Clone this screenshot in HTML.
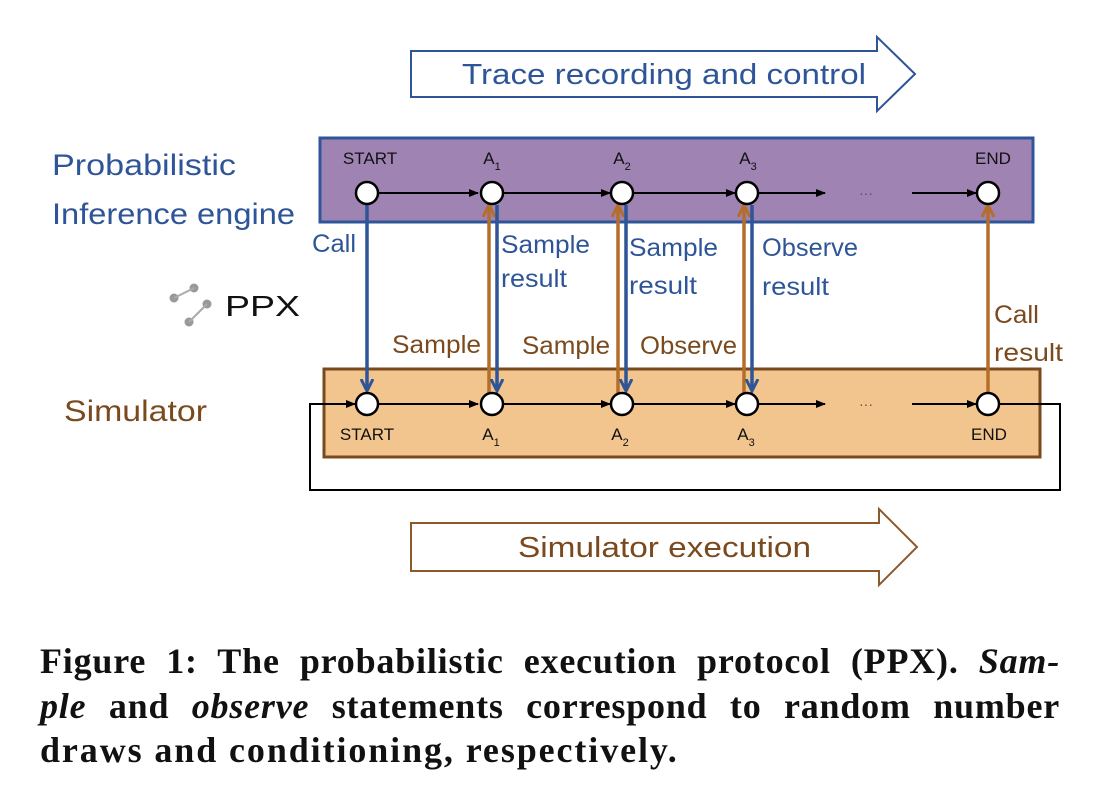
<!DOCTYPE html>
<html><head><meta charset="utf-8"><style>
body{margin:0;background:#fff;width:1098px;height:802px;overflow:hidden}
.cap{position:absolute;left:40px;width:1020px;font-family:"Liberation Serif",serif;font-weight:bold;font-size:36px;line-height:44px;color:#111;white-space:nowrap;letter-spacing:0.8px}
.j{text-align:justify;text-align-last:justify}
</style></head><body>
<svg width="1098" height="802" style="position:absolute;left:0;top:0" font-family="Liberation Sans, DejaVu Sans, sans-serif">
<defs>
<marker id="k" markerWidth="10" markerHeight="8" refX="9" refY="4" orient="auto" markerUnits="userSpaceOnUse" viewBox="0 0 10 8"><path d="M0,0L10,4L0,8z" fill="#000"/></marker>
<marker id="b" markerWidth="14" markerHeight="14" refX="11" refY="7" orient="auto" markerUnits="userSpaceOnUse" viewBox="0 0 14 14"><path d="M0,1L12,7L0,13" fill="none" stroke="#2e5597" stroke-width="3"/></marker>
<marker id="o" markerWidth="14" markerHeight="14" refX="11" refY="7" orient="auto" markerUnits="userSpaceOnUse" viewBox="0 0 14 14"><path d="M0,1L12,7L0,13" fill="none" stroke="#b46e2a" stroke-width="3"/></marker>
</defs>
<path d="M411,51H877V37L915,74L877,111V97H411Z" fill="#fff" stroke="#2e5597" stroke-width="2"/>
<text x="462" y="84" font-size="29" fill="#2e5597" textLength="404" lengthAdjust="spacingAndGlyphs">Trace recording and control</text>
<path d="M411,523H879V509L917,547L879,585V571H411Z" fill="#fff" stroke="#8b5a2b" stroke-width="2"/>
<text x="518" y="557" font-size="29" fill="#7a4a1e" textLength="293" lengthAdjust="spacingAndGlyphs">Simulator execution</text>
<rect x="320" y="138" width="713" height="84" fill="#9f83b3" stroke="#2e5597" stroke-width="3"/>
<rect x="324" y="369" width="716" height="88" fill="#f2c48e" stroke="#7a4a1e" stroke-width="3"/>
<path d="M1000,404H1060V490H310V404H355" fill="none" stroke="#000" stroke-width="2" marker-end="url(#k)"/>
<g stroke="#000" stroke-width="2">
<line x1="378" y1="193" x2="478" y2="193" marker-end="url(#k)"/>
<line x1="501" y1="193" x2="610" y2="193" marker-end="url(#k)"/>
<line x1="633" y1="193" x2="735" y2="193" marker-end="url(#k)"/>
<line x1="758" y1="193" x2="825" y2="193" marker-end="url(#k)"/>
<line x1="912" y1="193" x2="976" y2="193" marker-end="url(#k)"/>
<line x1="378" y1="404" x2="478" y2="404" marker-end="url(#k)"/>
<line x1="501" y1="404" x2="610" y2="404" marker-end="url(#k)"/>
<line x1="633" y1="404" x2="735" y2="404" marker-end="url(#k)"/>
<line x1="758" y1="404" x2="825" y2="404" marker-end="url(#k)"/>
<line x1="912" y1="404" x2="976" y2="404" marker-end="url(#k)"/>
</g>
<text x="866" y="198" font-size="14" fill="#555" text-anchor="middle">···</text>
<text x="866" y="409" font-size="14" fill="#555" text-anchor="middle">···</text>
<g stroke-width="3.5" fill="none">
<line x1="367" y1="205" x2="367" y2="390" stroke="#2e5597" marker-end="url(#b)"/>
<line x1="489" y1="393" x2="489" y2="206" stroke="#b46e2a" marker-end="url(#o)"/>
<line x1="497" y1="205" x2="497" y2="390" stroke="#2e5597" marker-end="url(#b)"/>
<line x1="618" y1="393" x2="618" y2="206" stroke="#b46e2a" marker-end="url(#o)"/>
<line x1="626" y1="205" x2="626" y2="390" stroke="#2e5597" marker-end="url(#b)"/>
<line x1="744" y1="393" x2="744" y2="206" stroke="#b46e2a" marker-end="url(#o)"/>
<line x1="752" y1="205" x2="752" y2="390" stroke="#2e5597" marker-end="url(#b)"/>
<line x1="988" y1="393" x2="988" y2="206" stroke="#b46e2a" marker-end="url(#o)"/>
</g>
<g fill="#fff" stroke="#000" stroke-width="2.5">
<circle cx="367" cy="193" r="11"/><circle cx="492" cy="193" r="11"/><circle cx="622" cy="193" r="11"/><circle cx="747" cy="193" r="11"/><circle cx="988" cy="193" r="11"/>
<circle cx="367" cy="404" r="11"/><circle cx="492" cy="404" r="11"/><circle cx="622" cy="404" r="11"/><circle cx="747" cy="404" r="11"/><circle cx="988" cy="404" r="11"/>
</g>
<g font-size="17" fill="#111" text-anchor="middle">
<text x="370" y="164">START</text><text x="492" y="164">A<tspan font-size="11" dy="6">1</tspan></text><text x="622" y="164">A<tspan font-size="11" dy="6">2</tspan></text><text x="748" y="164">A<tspan font-size="11" dy="6">3</tspan></text><text x="993" y="164">END</text>
<text x="367" y="440">START</text><text x="491" y="440">A<tspan font-size="11" dy="6">1</tspan></text><text x="620" y="440">A<tspan font-size="11" dy="6">2</tspan></text><text x="746" y="440">A<tspan font-size="11" dy="6">3</tspan></text><text x="989" y="440">END</text>
</g>
<g font-size="30" fill="#2e5597"><text x="52" y="175" textLength="184" lengthAdjust="spacingAndGlyphs">Probabilistic</text><text x="52" y="224" textLength="243" lengthAdjust="spacingAndGlyphs">Inference engine</text></g>
<text x="64" y="421" font-size="30" fill="#7a4a1e" textLength="143" lengthAdjust="spacingAndGlyphs">Simulator</text>
<g fill="#999"><circle cx="194" cy="288" r="4.5"/><circle cx="174" cy="298" r="4.5"/><circle cx="207" cy="304" r="4.5"/><circle cx="189" cy="322" r="4.5"/></g>
<g stroke="#aaa" stroke-width="2"><line x1="194" y1="288" x2="174" y2="298"/><line x1="207" y1="304" x2="189" y2="322"/></g>
<text x="225" y="316" font-size="29" fill="#111" textLength="75" lengthAdjust="spacingAndGlyphs">PPX</text>
<g font-size="25" fill="#2e5597">
<text x="312" y="252" textLength="44" lengthAdjust="spacingAndGlyphs">Call</text>
<text x="501" y="253" textLength="89" lengthAdjust="spacingAndGlyphs">Sample</text><text x="501" y="287" textLength="66" lengthAdjust="spacingAndGlyphs">result</text>
<text x="629" y="256" textLength="89" lengthAdjust="spacingAndGlyphs">Sample</text><text x="629" y="294" textLength="68" lengthAdjust="spacingAndGlyphs">result</text>
<text x="762" y="256" textLength="96" lengthAdjust="spacingAndGlyphs">Observe</text><text x="762" y="295" textLength="67" lengthAdjust="spacingAndGlyphs">result</text>
</g>
<g font-size="25" fill="#7a4a1e">
<text x="392" y="353" textLength="89" lengthAdjust="spacingAndGlyphs">Sample</text><text x="522" y="354" textLength="88" lengthAdjust="spacingAndGlyphs">Sample</text><text x="640" y="354" textLength="97" lengthAdjust="spacingAndGlyphs">Observe</text>
<text x="994" y="323" textLength="45" lengthAdjust="spacingAndGlyphs">Call</text><text x="994" y="361" textLength="69" lengthAdjust="spacingAndGlyphs">result</text>
</g>
</svg>
<div class="cap j" style="top:639px">Figure 1: The probabilistic execution protocol (PPX). <i>Sam-</i></div>
<div class="cap j" style="top:684px"><i>ple</i> and <i>observe</i> statements correspond to random number</div>
<div class="cap" style="top:728px;letter-spacing:1.9px">draws and conditioning, respectively.</div>
</body></html>
